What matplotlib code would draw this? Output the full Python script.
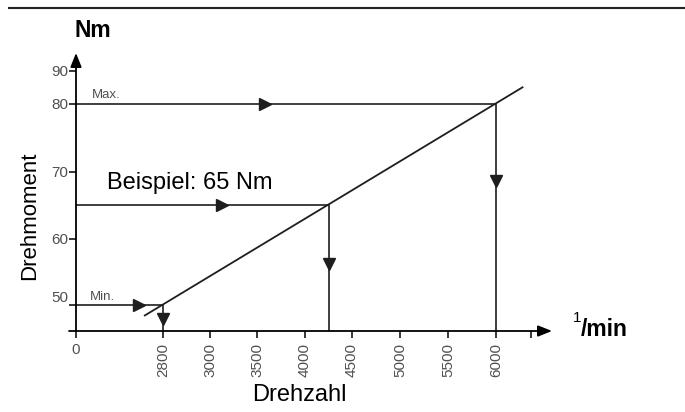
"""
Drehmoment über Drehzahl: schematic torque/speed chart with
min, max and an example setting (65 Nm).
"""
import numpy as np
import matplotlib
matplotlib.use("Agg")
import matplotlib.pyplot as plt
from matplotlib.lines import Line2D
from matplotlib.transforms import ScaledTranslation

plt.rcParams["font.family"] = ["Liberation Sans", "DejaVu Sans"]

# values
speed_ticks = [0, 2800, 3000, 3500, 4000, 4500, 5000, 5500, 6000]
torque_ticks = [50, 60, 70, 80, 90]
min_point = (2800, 50)
example_point = (4250, 65)
max_point = (6000, 80)
line_speed = [2190, 6390]
line_torque = [47.9, 85.2]

# schematic (non-linear) axes: value -> pixel knots
X_KNOTS = [0, 2800, 3000, 3500, 4000, 4500, 5000, 5500, 6000, 6500, 7000]
X_PIX = [76, 163, 210, 257, 305, 352, 400, 448, 496, 531, 566]
Y_KNOTS = [45, 50, 60, 70, 80, 90, 100]
Y_PIX = [-331, -305, -239, -172, -104, -71, -38]

fx = lambda v: np.interp(v, X_KNOTS, X_PIX)
ix = lambda p: np.interp(p, X_PIX, X_KNOTS)
fy = lambda v: np.interp(v, Y_KNOTS, Y_PIX)
iy = lambda p: np.interp(p, Y_PIX, Y_KNOTS)

W, H = 685, 412
fig = plt.figure(figsize=(W / 100, H / 100), dpi=100)
L, R, B, T = 76, 552, 331, 53
ax = fig.add_axes([L / W, (H - B) / H, (R - L) / W, (B - T) / H])
ax.set_xscale("function", functions=(fx, ix))
ax.set_yscale("function", functions=(fy, iy))
ax.set_xlim(0, float(ix(R)))
ax.set_ylim(45, float(iy(-T)))
for s in ax.spines.values():
    s.set_visible(False)

LC = "#1e1e1e"
GRAY = "#505050"

# axes with arrows
ax.annotate("", xy=(1, 0), xytext=(-7 / (R - L), 0), xycoords="axes fraction",
            arrowprops=dict(arrowstyle="-|>,head_length=0.7,head_width=0.28",
                            mutation_scale=12, lw=1.3, color="black",
                            shrinkA=0, shrinkB=0))
ax.annotate("", xy=(0, 1), xytext=(0, 0), xycoords="axes fraction",
            arrowprops=dict(arrowstyle="-|>,head_length=0.7,head_width=0.28",
                            mutation_scale=12, lw=1.3, color="black",
                            shrinkA=0, shrinkB=0))

# characteristic line
ax.plot(line_speed, line_torque, color=LC, lw=1.3, solid_capstyle="butt")


def mid_arrow(p0, p1, frac, marker):
    a = ax.transData.transform(p0)
    b = ax.transData.transform(p1)
    x, y = ax.transData.inverted().transform(a + frac * (b - a))
    ax.plot([x], [y], marker=marker, ms=9, color=LC, mec=LC)


ymin = 45
for (sp, tq), fh, fv in [(min_point, 0.72, 0.55),
                         (example_point, 0.58, 0.47),
                         (max_point, 0.45, 0.34)]:
    ax.plot([0, sp, sp], [tq, tq, ymin], color=LC, lw=1.2)
    mid_arrow((0, tq), (sp, tq), fh, ">")
    mid_arrow((sp, tq), (sp, ymin), fv, "v")

# ticks
ax.set_xticks(speed_ticks + [6500])
ax.set_xticklabels([str(v) for v in speed_ticks] + [""])
ax.set_yticks(torque_ticks)
ax.set_yticklabels([str(v) for v in torque_ticks])
ax.tick_params(axis="x", length=5, width=1.1, pad=3.5, labelsize=11,
               labelcolor=GRAY)
ax.tick_params(axis="y", length=5, width=1.1, pad=0.8, labelsize=11,
               labelcolor=GRAY)
for lab in ax.get_xticklabels()[1:]:
    lab.set_rotation(90)
    lab.set_va("top")
fig.canvas.draw()
lab50 = ax.get_yticklabels()[0]
lab50.set_transform(lab50.get_transform()
                    + ScaledTranslation(0, 8 / 100, fig.dpi_scale_trans))

# annotations on the guide lines
ax.annotate("Max.", xy=(0, max_point[1]), xytext=(11.5, 4.3),
            textcoords="offset points", fontsize=9.5, color=GRAY, va="baseline")
ax.annotate("Min.", xy=(0, min_point[1]), xytext=(10, 3.6),
            textcoords="offset points", fontsize=9.5, color=GRAY, va="baseline")
ax.annotate("Beispiel: 65 Nm", xy=(0, example_point[1]), xytext=(22.3, 12.2),
            textcoords="offset points", fontsize=17, color="black",
            va="baseline")

# axis titles
fig.text(75 / W, 1 - 37 / H, "Nm", fontsize=16.5, fontweight="bold",
         va="baseline")
fig.text(581 / W, 1 - 336 / H, "/min", fontsize=16.5, fontweight="bold",
         va="baseline")
fig.text(573 / W, 1 - 322 / H, "1", fontsize=11, va="baseline")
fig.text(299 / W, 1 - 401 / H, "Drehzahl", fontsize=17, ha="center",
         va="baseline")
fig.text(30 / W, 1 - 216 / H, "Drehmoment", fontsize=16, rotation=90,
         ha="center", va="center")

fig.add_artist(Line2D([9 / W, 1], [1 - 8 / H] * 2, color="#222222", lw=1.5))

fig.savefig("out.png", dpi=100)
